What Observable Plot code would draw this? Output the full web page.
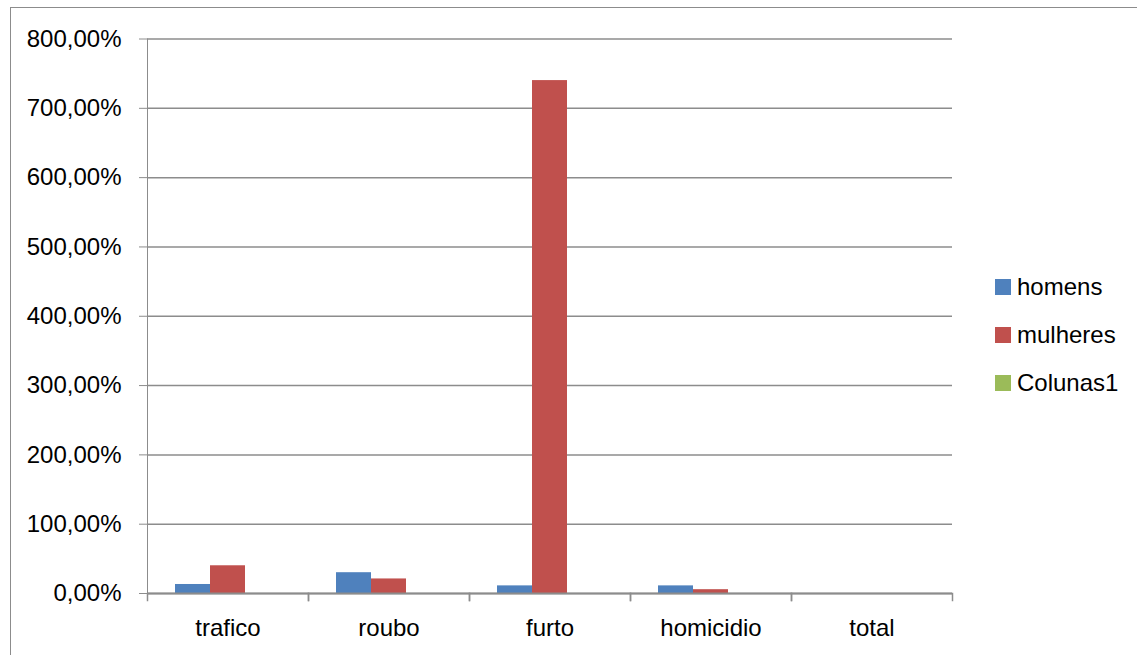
<!DOCTYPE html>
<html>
<head>
<meta charset="utf-8">
<script src="https://cdn.jsdelivr.net/npm/d3@7"></script>
<script src="https://cdn.jsdelivr.net/npm/@observablehq/plot@0.6"></script>
<style>
  html, body { margin: 0; padding: 0; background: #fff; overflow: hidden; }
  #wrap { position: relative; width: 1137px; height: 655px; overflow: hidden; font-family: "Liberation Sans", Arial, sans-serif; }
  #border { position: absolute; left: 10px; top: 7px; width: 1200px; height: 700px; border: 1px solid #8c8c8c; box-sizing: border-box; }
  #chart { position: absolute; left: 0; top: 0; }
  #chart svg text { fill: #000; }
  #legend { position: absolute; left: 995px; top: 263px; font-size: 24px; color: #000; }
  .row { display: flex; align-items: center; height: 48px; }
  .sw { width: 16px; height: 16px; margin-right: 6px; }
</style>
</head>
<body>
<div id="wrap">
  <div id="border"></div>
  <div id="chart"></div>
  <div id="legend"></div>
</div>
<script>
const categories = ["trafico", "roubo", "furto", "homicidio", "total"];
const series = ["homens", "mulheres", "Colunas1"];
const homens = [0.13, 0.30, 0.11, 0.11, 0];
const mulheres = [0.40, 0.21, 7.40, 0.055, 0];
const colunas1 = [0, 0, 0, 0, 0];
const colors = ["#4F81BD", "#C0504D", "#9BBB59"];
const yTicks = [0, 1, 2, 3, 4, 5, 6, 7, 8];

const values = [homens, mulheres, colunas1];
const rows = [];
categories.forEach((c, i) => series.forEach((s, j) => rows.push({category: c, series: s, value: values[j][i]})));

const W = 975, H = 655, mTop = 38.5, mBottom = 62, mLeft = 146, mRight = 22;
const grid = "#8c8c8c";

const plot = Plot.plot({
  width: W,
  height: H,
  marginTop: mTop,
  marginBottom: mBottom,
  marginLeft: mLeft,
  marginRight: mRight,
  style: {fontFamily: "Liberation Sans, Arial, sans-serif", fontSize: "24px", color: grid, background: "transparent"},
  fx: {domain: categories, padding: 0, label: null, tickSize: 0, tickPadding: 25},
  x: {domain: series, paddingInner: 0, paddingOuter: 0.75, axis: null},
  y: {domain: [0, 8], ticks: yTicks, tickSize: 8, tickPadding: 18, label: null, line: true,
      tickFormat: d => (d * 100).toFixed(2).replace(".", ",") + "%"},
  color: {domain: series, range: colors},
  marks: [
    Plot.ruleY(yTicks, {stroke: grid, strokeWidth: 1.5}),
    Plot.barY(rows, {fx: "category", x: "series", y: "value", fill: "series"}),
    Plot.frame({anchor: "left", stroke: grid, strokeWidth: 1.5, insetTop: H - mTop - mBottom, insetBottom: -7}),
    Plot.frame({anchor: "right", stroke: grid, strokeWidth: 1.5, insetTop: H - mTop - mBottom, insetBottom: -7}),
    Plot.ruleY([0], {stroke: grid, strokeWidth: 2})
  ]
});
document.getElementById("chart").appendChild(plot);

const color = plot.scale("color");
const legend = document.getElementById("legend");
series.forEach((s, j) => {
  const row = document.createElement("div");
  row.className = "row";
  const sw = document.createElement("div");
  sw.className = "sw";
  sw.style.background = color.range[j];
  const t = document.createElement("span");
  t.textContent = s;
  row.appendChild(sw); row.appendChild(t);
  legend.appendChild(row);
});
</script>
</body>
</html>
